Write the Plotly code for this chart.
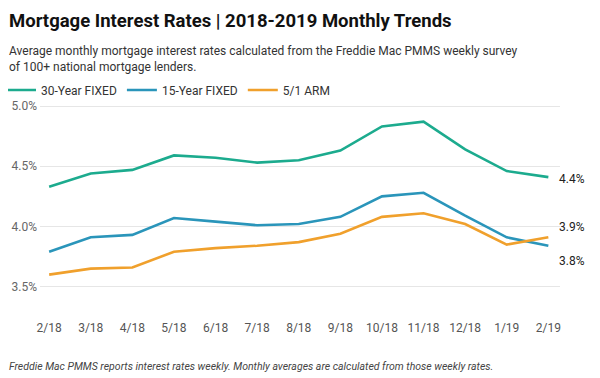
import plotly.graph_objects as go

months = ["2/18", "3/18", "4/18", "5/18", "6/18", "7/18", "8/18", "9/18",
          "10/18", "11/18", "12/18", "1/19", "2/19"]
fixed30 = [4.33, 4.44, 4.47, 4.59, 4.57, 4.53, 4.55, 4.63, 4.83, 4.87, 4.64, 4.46, 4.41]
fixed15 = [3.79, 3.91, 3.93, 4.07, 4.04, 4.01, 4.02, 4.08, 4.25, 4.28, 4.09, 3.91, 3.84]
arm51 = [3.60, 3.65, 3.66, 3.79, 3.82, 3.84, 3.87, 3.94, 4.08, 4.11, 4.02, 3.85, 3.91]
y_ticks = [3.5, 4.0, 4.5, 5.0]
y_tick_text = ["3.5%", "4.0%", "4.5%", "5.0%"]

series = [
    ("30-Year FIXED", fixed30, "#1cab8e", -2),
    ("15-Year FIXED", fixed15, "#2a95ba", -15),
    ("5/1 ARM", arm51, "#f0a02c", 10),
]

FONT = "Roboto, 'Open Sans', Arial, sans-serif"
W, H = 600, 378
# the page body adds an 8px offset; layout numbers below are in figure pixels
ML, MR, MT, MB = 32, 48, 92, 74
PW, PH = W - ML - MR, H - MT - MB


def px_x(px):
    return (px - ML) / PW


def px_y(py):
    return (H - MB - py) / PH


fig = go.Figure()
for name, vals, color, _ in series:
    fig.add_trace(go.Scatter(
        x=list(range(len(months))), y=vals, mode="lines", name=name,
        line=dict(color=color, width=2.6),
        hovertemplate="%{y:.2f}%<extra>" + name + "</extra>",
    ))

annotations = []
for name, vals, color, shift in series:
    annotations.append(dict(
        x=len(months) - 1, y=vals[-1], xref="x", yref="y",
        text=f"{vals[-1]:.1f}%", showarrow=False, xanchor="left",
        xshift=9, yshift=shift, font=dict(size=12, color="#222", family=FONT),
    ))

annotations += [
    dict(text="<b>Mortgage Interest Rates | 2018-2019 Monthly Trends</b>",
         xref="paper", yref="paper", x=px_x(-1), y=px_y(13),
         xanchor="left", yanchor="middle", align="left", showarrow=False,
         font=dict(size=18.5, color="#111", family=FONT)),
    dict(text="Average monthly mortgage interest rates calculated from the Freddie Mac PMMS weekly survey<br>of 100+ national mortgage lenders.",
         xref="paper", yref="paper", x=px_x(-1), y=px_y(50.5),
         xanchor="left", yanchor="middle", align="left", showarrow=False,
         font=dict(size=12, color="#333", family=FONT)),
    dict(text="<i>Freddie Mac PMMS reports interest rates weekly. Monthly averages are calculated from those weekly rates.</i>",
         xref="paper", yref="paper", x=px_x(-1), y=px_y(358),
         xanchor="left", yanchor="middle", align="left", showarrow=False,
         font=dict(size=10.5, color="#444", family=FONT)),
]

fig.update_layout(
    width=W, height=H,
    margin=dict(l=ML, r=MR, t=MT, b=MB, autoexpand=False),
    paper_bgcolor="white", plot_bgcolor="white",
    font=dict(family=FONT, color="#333"),
    legend=dict(orientation="h", x=px_x(-7), xanchor="left",
                y=px_y(82), yanchor="middle",
                font=dict(size=12, color="#333", family=FONT),
                itemwidth=30, tracegroupgap=0, bgcolor="rgba(0,0,0,0)"),
    xaxis=dict(range=[-0.22, 12.28], tickmode="array",
               tickvals=list(range(len(months))), ticktext=months,
               showgrid=False, zeroline=False, showline=False,
               ticks="", ticklabelstandoff=7, automargin=False,
               tickfont=dict(size=12, color="#555", family=FONT)),
    yaxis=dict(range=[3.29, 5.05], tickmode="array", tickvals=y_ticks,
               ticktext=y_tick_text, showgrid=True, gridcolor="#e6e6e6",
               gridwidth=1, zeroline=False, showline=False, ticks="",
               ticklabelstandoff=2, automargin=False,
               tickfont=dict(size=12, color="#666", family=FONT)),
    annotations=annotations,
    hovermode="x unified",
)
fig.write_html("out.html")
